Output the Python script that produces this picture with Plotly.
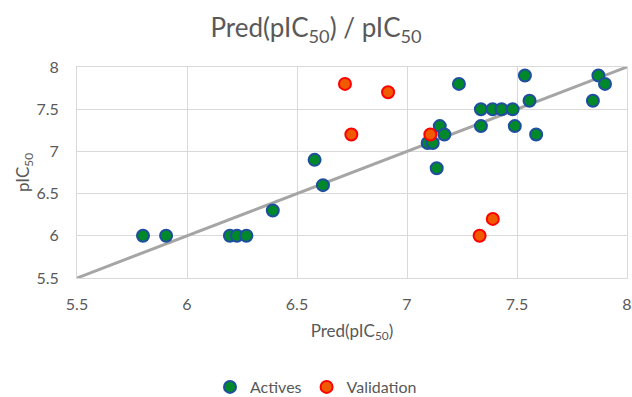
import plotly.graph_objects as go

# Predicted vs. measured pIC50
actives_pred = [5.80, 5.905, 6.195, 6.227, 6.27, 6.39, 6.58, 6.618, 7.236, 7.094, 7.117,
                7.149, 7.17, 7.135, 7.336, 7.336, 7.389, 7.43, 7.48, 7.49, 7.536, 7.557,
                7.587, 7.845, 7.87, 7.90]
actives_obs = [6.0, 6.0, 6.0, 6.0, 6.0, 6.3, 6.9, 6.6, 7.8, 7.1, 7.1,
               7.3, 7.2, 6.8, 7.5, 7.3, 7.5, 7.5, 7.5, 7.3, 7.9, 7.6,
               7.2, 7.6, 7.9, 7.8]

validation_pred = [6.718, 6.747, 6.914, 7.106, 7.33, 7.39]
validation_obs = [7.8, 7.2, 7.7, 7.2, 6.0, 6.2]

identity = [5.5, 8.0]
x_ticks = [5.5, 6, 6.5, 7, 7.5, 8]
y_ticks = [5.5, 6, 6.5, 7, 7.5, 8]

FONT = "Lato"
TEXT = "#595959"
GRID = "#D9D9D9"

fig = go.Figure()

fig.add_trace(go.Scatter(
    x=identity, y=identity, mode="lines",
    line=dict(color="#A5A5A5", width=3),
    showlegend=False, hoverinfo="skip",
))

fig.add_trace(go.Scatter(
    x=actives_pred, y=actives_obs, mode="markers", name="Actives",
    marker=dict(size=12, color="#00882B", line=dict(color="#1F4E9E", width=2)),
))

fig.add_trace(go.Scatter(
    x=validation_pred, y=validation_obs, mode="markers", name="Validation",
    marker=dict(size=12, color="#F05A00", line=dict(color="#FF0000", width=2)),
))

fig.update_layout(
    width=632, height=397,
    paper_bgcolor="white", plot_bgcolor="white",
    margin=dict(l=77, r=5, t=67, b=119, autoexpand=False),
    font=dict(family=FONT, color=TEXT, size=15),
    title=dict(
        text="Pred(pIC<sub>50</sub>) / pIC<sub>50</sub>",
        x=0.5, xanchor="center", xref="container",
        y=1 - 28 / 397, yanchor="middle", yref="container",
        font=dict(size=26, color=TEXT, family=FONT),
    ),
    legend=dict(
        orientation="h", x=0.5, xanchor="center", xref="container",
        y=10 / 397, yanchor="middle", yref="container",
        font=dict(size=16, color=TEXT), itemwidth=30, tracegroupgap=0,
    ),
    showlegend=True,
)

fig.update_xaxes(
    range=[5.5, 8], tickvals=x_ticks, ticktext=[f"{v:g}" for v in x_ticks],
    showgrid=True, gridcolor=GRID, gridwidth=1,
    showline=True, linecolor=GRID, mirror=True, zeroline=False,
    ticks="", tickfont=dict(size=16, color=TEXT), ticklabelstandoff=12,
    title=dict(text="Pred(pIC<sub>50</sub>)", font=dict(size=17, color=TEXT), standoff=12),
)
fig.update_yaxes(
    range=[5.5, 8], tickvals=y_ticks, ticktext=[f"{v:g}" for v in y_ticks],
    showgrid=True, gridcolor=GRID, gridwidth=1,
    showline=True, linecolor=GRID, mirror=True, zeroline=False,
    ticks="", tickfont=dict(size=16, color=TEXT), ticklabelstandoff=14,
    title=dict(text="pIC<sub>50</sub>", font=dict(size=17, color=TEXT), standoff=2),
)

fig.write_html("out.html")
